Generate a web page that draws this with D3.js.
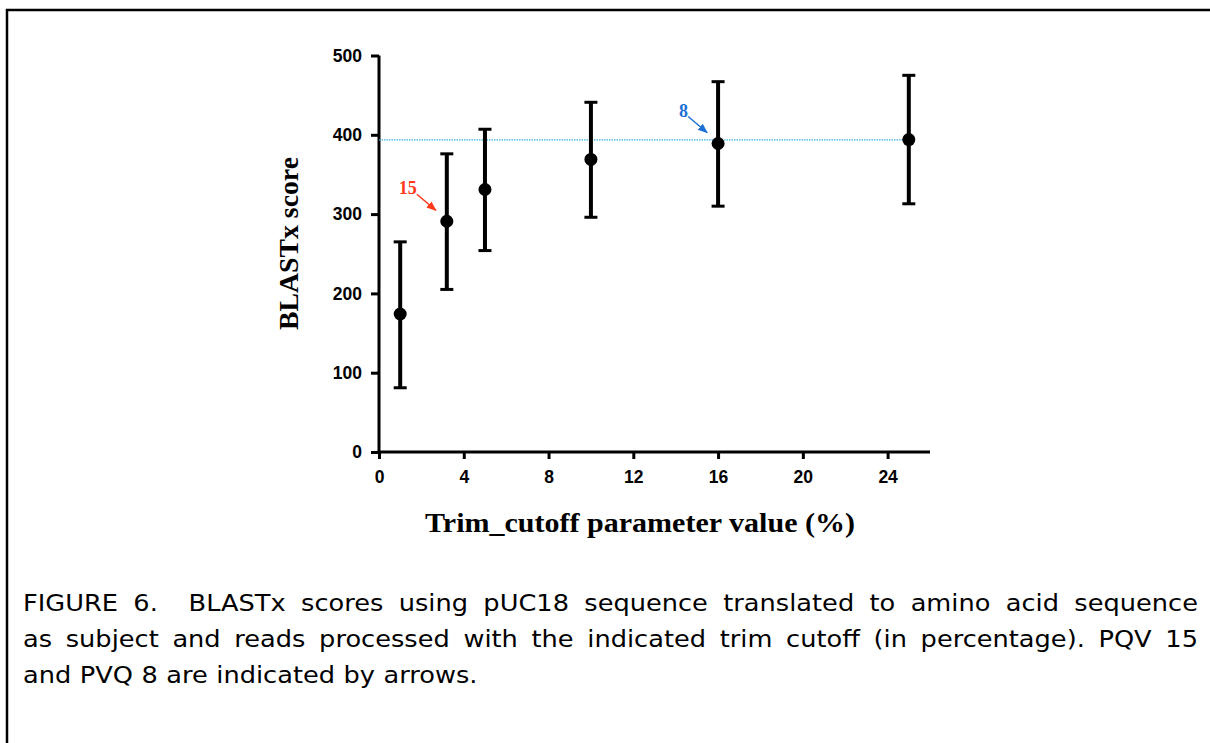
<!DOCTYPE html>
<html>
<head>
<meta charset="utf-8">
<script src="https://cdn.jsdelivr.net/npm/d3@7"></script>
<style>
  html, body { margin: 0; padding: 0; background: #fff; }
  svg { display: block; }
</style>
</head>
<body>
<svg id="fig" width="1210" height="743"></svg>
<script>
// Trim cutoff (%) and BLASTx score: mean with lower / upper error limits
const trimCutoff = [1, 3.2, 5, 10, 16, 25];
const scoreMean  = [174, 291, 331, 369, 389, 394];
const scoreLow   = [81, 205, 254, 296, 310, 313];
const scoreHigh  = [265, 376, 407, 441, 467, 475];

// Horizontal reference level
const refScore = 393.5;

// Axis ticks
const xTicks = [0, 4, 8, 12, 16, 20, 24];
const yTicks = [0, 100, 200, 300, 400, 500];

// Arrow annotations (index of the annotated point, label)
const annotIndex = [1, 4];
const annotLabel = ["15", "8"];
const annotColor = ["#ff3a1a", "#1c6fd4"];

const captionLines = [
  "FIGURE 6.  BLASTx scores using pUC18 sequence translated to amino acid sequence",
  "as subject and reads processed with the indicated trim cutoff (in percentage). PQV 15",
  "and PVQ 8 are indicated by arrows."
];

const svg = d3.select("#fig");

// frame (top and left rules)
svg.append("path")
  .attr("d", "M7,743V10H1210")
  .attr("fill", "none").attr("stroke", "#000").attr("stroke-width", 2.5);

const x = d3.scaleLinear().domain([0, 26]).range([379, 930]);
const y = d3.scaleLinear().domain([0, 500]).range([452, 55.5]);

const tickFont = "'Liberation Sans', Arial, sans-serif";
const serif = "'Liberation Serif', 'Times New Roman', serif";

// axes
const xAxis = svg.append("g").attr("transform", `translate(0,${y(0)})`)
  .call(d3.axisBottom(x).tickValues(xTicks).tickSize(7).tickPadding(12).tickSizeOuter(0));
const yAxis = svg.append("g").attr("transform", `translate(${x(0)},0)`)
  .call(d3.axisLeft(y).tickValues(yTicks).tickSize(8).tickPadding(9).tickSizeOuter(0));

[xAxis, yAxis].forEach(g => {
  g.select(".domain").attr("stroke", "#000").attr("stroke-width", 3);
  g.selectAll(".tick line").attr("stroke", "#000").attr("stroke-width", 3);
  g.selectAll(".tick text")
    .attr("fill", "#000")
    .style("font-family", tickFont)
    .style("font-size", "17.5px")
    .style("font-weight", "bold");
});
// extend the axis lines so they meet at the corner
xAxis.select(".domain").attr("d", `M${x(0) - 1.5},0H${x(26)}`);
yAxis.select(".domain").attr("d", `M0,${y(0) + 1.5}V${y(500)}`);

// reference dotted line
svg.append("line")
  .attr("x1", x(0)).attr("x2", x(25.1))
  .attr("y1", y(refScore)).attr("y2", y(refScore))
  .attr("stroke", "#3db3e3").attr("stroke-width", 1.2)
  .attr("stroke-dasharray", "1.5,1");

// error bars
const pts = trimCutoff.map((t, i) => ({ t, m: scoreMean[i], lo: scoreLow[i], hi: scoreHigh[i] }));
const eb = svg.append("g");
eb.selectAll("line.bar").data(pts).join("line")
  .attr("x1", d => x(d.t)).attr("x2", d => x(d.t))
  .attr("y1", d => y(d.lo)).attr("y2", d => y(d.hi))
  .attr("stroke", "#000").attr("stroke-width", 4);
["lo", "hi"].forEach(k => {
  eb.selectAll("line.cap-" + k).data(pts).join("line")
    .attr("x1", d => x(d.t) - 6.5).attr("x2", d => x(d.t) + 6.5)
    .attr("y1", d => y(d[k])).attr("y2", d => y(d[k]))
    .attr("stroke", "#000").attr("stroke-width", 3);
});
svg.append("g").selectAll("circle").data(pts).join("circle")
  .attr("cx", d => x(d.t)).attr("cy", d => y(d.m)).attr("r", 6.5)
  .attr("fill", "#000");

// arrow annotations
const defs = svg.append("defs");
annotColor.forEach((c, i) => {
  defs.append("marker")
    .attr("id", "ah" + i).attr("viewBox", "0 0 10 10")
    .attr("refX", 9).attr("refY", 5)
    .attr("markerWidth", 10).attr("markerHeight", 10)
    .attr("markerUnits", "userSpaceOnUse")
    .attr("orient", "auto")
    .append("path").attr("d", "M0,1L10,5L0,9Z").attr("fill", c);
});
annotIndex.forEach((idx, i) => {
  const px = x(trimCutoff[idx]), py = y(scoreMean[idx]);
  svg.append("line")
    .attr("x1", px - 30).attr("y1", py - 27)
    .attr("x2", px - 11).attr("y2", py - 11)
    .attr("stroke", annotColor[i]).attr("stroke-width", 1.5)
    .attr("marker-end", `url(#ah${i})`);
  svg.append("text")
    .attr("x", px - 30).attr("y", py - 27)
    .attr("text-anchor", "end")
    .attr("fill", annotColor[i])
    .style("font-family", serif).style("font-weight", "bold").style("font-size", "18px")
    .text(annotLabel[i]);
});

// axis titles
svg.append("text")
  .attr("x", 640).attr("y", 532)
  .attr("text-anchor", "middle")
  .attr("textLength", 430).attr("lengthAdjust", "spacingAndGlyphs")
  .style("font-family", serif).style("font-weight", "bold").style("font-size", "27px")
  .text("Trim_cutoff parameter value (%)");
svg.append("text")
  .attr("transform", `translate(298,243.5) rotate(-90)`)
  .attr("text-anchor", "middle")
  .attr("textLength", 173).attr("lengthAdjust", "spacingAndGlyphs")
  .style("font-family", serif).style("font-weight", "bold").style("font-size", "27px")
  .text("BLASTx score");

// caption: words set with a slightly wide face; all lines but the last justified.
// A double space counts as two gaps.
const capLeft = 23, capRight = 1198;
const capBase = [611, 647, 683];
const capStretch = 1.14;
captionLines.forEach((line, li) => {
  const g = svg.append("g");
  const tokens = line.split(" ");
  const widths = tokens.map(w => {
    if (!w) return 0;
    const n = g.append("text")
      .attr("y", capBase[li])
      .style("font-family", "'DejaVu Sans', Verdana, sans-serif")
      .style("font-size", "22.5px")
      .attr("fill", "#000")
      .text(w);
    const wdt = n.node().getComputedTextLength() * capStretch;
    n.attr("textLength", wdt).attr("lengthAdjust", "spacingAndGlyphs");
    return wdt;
  });
  const nodes = g.selectAll("text").nodes();
  const total = d3.sum(widths);
  const justify = li < captionLines.length - 1;
  const gap = justify ? (capRight - capLeft - total) / (tokens.length - 1) : 8.5;
  let cx = capLeft, k = 0;
  tokens.forEach((w, i) => {
    if (w) { d3.select(nodes[k++]).attr("x", cx); }
    cx += widths[i] + gap;
  });
});
</script>
</body>
</html>
